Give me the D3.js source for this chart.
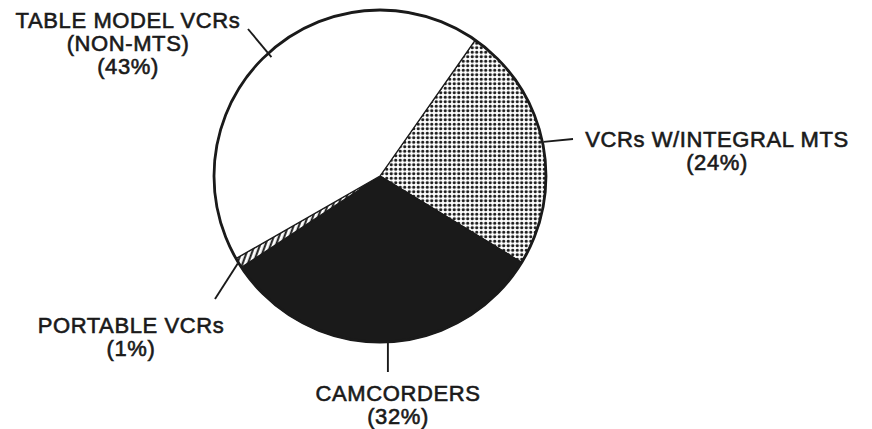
<!DOCTYPE html>
<html>
<head>
<meta charset="utf-8">
<script src="https://cdn.jsdelivr.net/npm/d3@7.9.0/dist/d3.min.js"></script>
<style>
  html, body { margin: 0; padding: 0; background: #fff; }
  svg text { font-family: "Liberation Sans", Arial, sans-serif; fill: #1a1a1a; }
</style>
</head>
<body>
<svg id="chart" width="872" height="429"></svg>
<script>
// slice data, clockwise from the upper right
const categories = ["VCRs W/INTEGRAL MTS", "CAMCORDERS", "PORTABLE VCRs", "TABLE MODEL VCRs"];
const shares = [24, 32, 1, 43];
const subLabels = ["", "", "", "(NON-MTS)"];
const fills = ["dots", "black", "hatch", "white"];

const cx = 380, cy = 176, r = 166;
const ink = "#1a1a1a";
const deg = Math.PI / 180;

const svg = d3.select("#chart");
const defs = svg.append("defs");

// dot screen for the MTS slice
const dots = defs.append("pattern").attr("id", "dots")
  .attr("patternUnits", "userSpaceOnUse").attr("width", 4.5).attr("height", 4.5);
dots.append("rect").attr("width", 4.5).attr("height", 4.5).attr("fill", "#fff");
dots.append("circle").attr("cx", 2.25).attr("cy", 2.25).attr("r", 1.6).attr("fill", ink);

// little white bars for the portable slice
const hatch = defs.append("pattern").attr("id", "hatch")
  .attr("patternUnits", "userSpaceOnUse").attr("width", 5).attr("height", 10)
  .attr("patternTransform", "rotate(20)");
hatch.append("rect").attr("width", 5).attr("height", 10).attr("fill", ink);
hatch.append("rect").attr("x", 1.8).attr("width", 3).attr("height", 10).attr("fill", "#fff");

const data = categories.map((c, i) => ({ name: c, sub: subLabels[i], value: shares[i], fill: fills[i] }));

const pie = d3.pie().sort(null).value(d => d.value)
  .startAngle(35 * deg).endAngle(395 * deg);
const arc = d3.arc().innerRadius(0).outerRadius(r);
const arcs = pie(data);

const g = svg.append("g").attr("transform", `translate(${cx},${cy})`);

g.selectAll("path.slice").data(arcs).join("path")
  .attr("class", "slice")
  .attr("d", arc)
  .attr("fill", d => d.data.fill === "dots" ? "url(#dots)"
    : d.data.fill === "hatch" ? "url(#hatch)"
    : d.data.fill === "black" ? ink : "#fff")
  .attr("stroke", ink)
  .attr("stroke-width", 1.3)
  .attr("stroke-linejoin", "round");

// outer rim
g.append("circle").attr("r", r).attr("fill", "none")
  .attr("stroke", ink).attr("stroke-width", 2.8);

// point on the rim at a slice's mid angle
function rim(d, rad) {
  const a = (d.startAngle + d.endAngle) / 2;
  return [cx + rad * Math.sin(a), cy - rad * Math.cos(a)];
}

// label layout: text anchor, leader end, line baselines
const layout = [
  { x: 717, y: 147, end: [573, 139], lines: d => [d.name, `(${d.value}%)`], dy: 23 },
  { x: 398, y: 401, end: null, lines: d => [d.name, `(${d.value}%)`], dy: 23 },
  { x: 131, y: 333, end: [215, 299], lines: d => [d.name, `(${d.value}%)`], dy: 23 },
  { x: 128, y: 28, end: [248, 29], lines: d => [d.name, d.sub, `(${d.value}%)`], dy: 23 }
];

arcs.forEach((d, i) => {
  const L = layout[i];
  let p0, p1;
  if (L.end) {
    p0 = rim(d, i === 3 ? r - 5 : r + 1);
    p1 = L.end;
  } else {
    const p = rim(d, r);
    p0 = [p[0] + 5, p[1] - 2];
    p1 = [p[0] + 5, 372];
  }
  svg.append("line")
    .attr("x1", p0[0]).attr("y1", p0[1]).attr("x2", p1[0]).attr("y2", p1[1])
    .attr("stroke", ink).attr("stroke-width", 1.9);

  const t = svg.append("text").attr("text-anchor", "middle")
    .attr("font-size", 22).attr("letter-spacing", 0.6)
    .attr("stroke", ink).attr("stroke-width", 0.6);
  L.lines(d.data).forEach((s, k) => {
    t.append("tspan").attr("x", L.x).attr("y", L.y + k * L.dy).text(s);
  });
});
</script>
</body>
</html>
